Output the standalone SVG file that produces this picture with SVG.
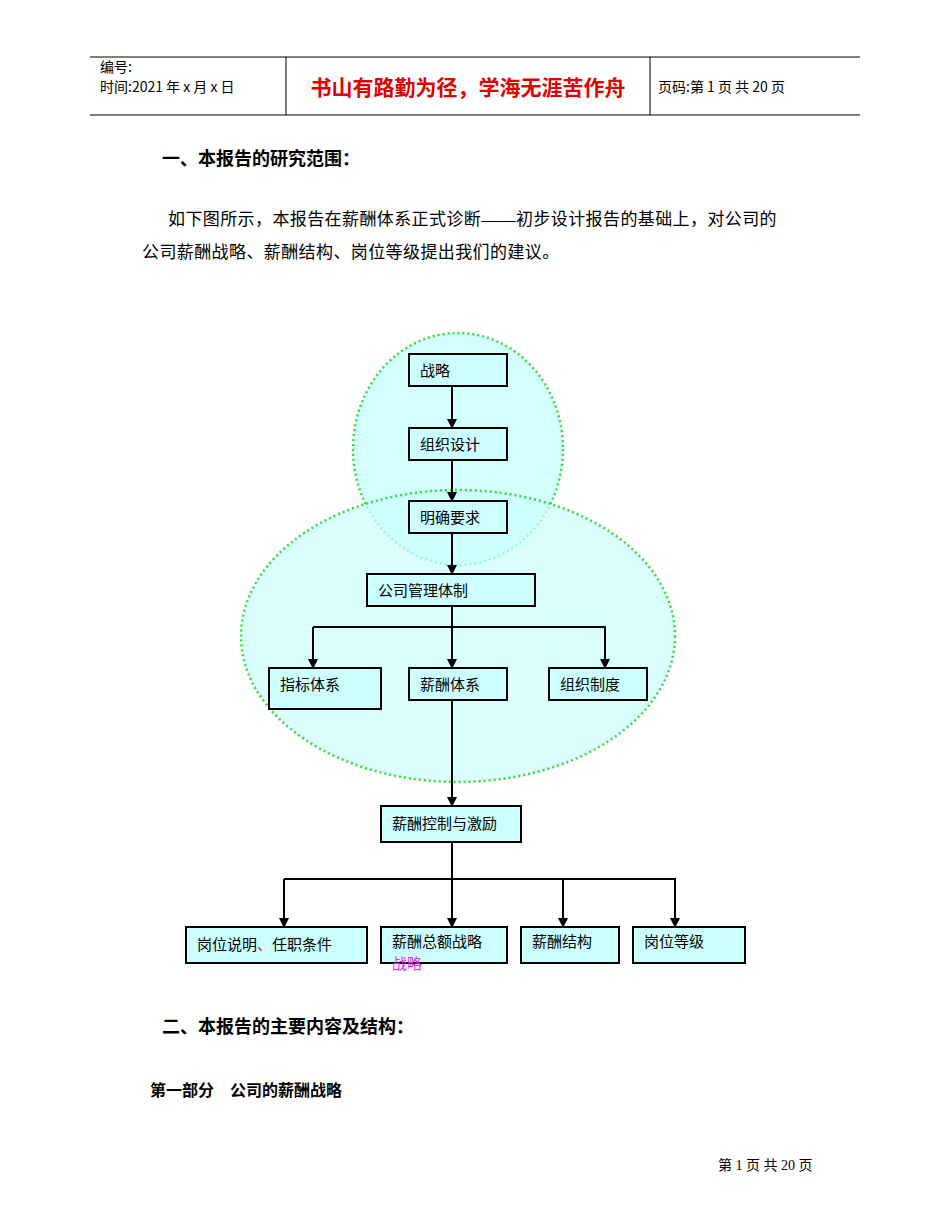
<svg xmlns="http://www.w3.org/2000/svg" width="950" height="1230" viewBox="0 0 950 1230">
<style>
text{font-family:"Liberation Serif","Noto Sans CJK SC",serif;fill:#000}
.h{font-family:"Noto Sans CJK SC",sans-serif;font-size:14px}
.b rect{fill:#ccffff;stroke:#000;stroke-width:2}
.b text{font-family:"Noto Sans CJK SC",sans-serif;font-size:15px}
.c{stroke:#000;stroke-width:2;fill:none}
.t{font-family:"Noto Sans CJK SC",sans-serif;font-weight:bold;font-size:18px}
.p{font-size:17px;letter-spacing:0.4px}
</style>
<defs><marker id="a" markerWidth="10" markerHeight="10" refX="9" refY="5" orient="auto" markerUnits="userSpaceOnUse"><path d="M0,0L10,5L0,10z" fill="#000"/></marker></defs>
<line x1="90" y1="57" x2="860" y2="57" stroke="#000"/>
<line x1="90" y1="115" x2="860" y2="115" stroke="#000"/>
<line x1="286" y1="57" x2="286" y2="115" stroke="#000"/>
<line x1="650" y1="57" x2="650" y2="115" stroke="#000"/>
<text class="h" x="100" y="72">编号:</text>
<text class="h" x="100" y="92">时间:2021 年 x 月 x 日</text>
<text x="468" y="95" text-anchor="middle" style="font-family:'Noto Sans CJK SC',sans-serif;font-size:21px;fill:#e00000;font-weight:bold">书山有路勤为径，学海无涯苦作舟</text>
<text class="h" x="658" y="92">页码:第 1 页 共 20 页</text>
<text class="t" x="162" y="165">一、本报告的研究范围：</text>
<text class="p" x="168" y="225">如下图所示，本报告在薪酬体系正式诊断——初步设计报告的基础上，对公司的</text>
<text class="p" x="142" y="258">公司薪酬战略、薪酬结构、岗位等级提出我们的建议。</text>
<g id="circle"><ellipse cx="458" cy="449" rx="105" ry="116" fill="#ccffff" fill-opacity="0.85" stroke="#33dd33" stroke-width="2.5" stroke-dasharray="2,3"/></g>
<g id="ellipse"><ellipse cx="458" cy="636" rx="217" ry="146" fill="#ccffff" fill-opacity="0.7" stroke="#33dd33" stroke-width="2.5" stroke-dasharray="2,3"/></g>
<g id="connectors" class="c">
<line x1="452" y1="386" x2="452" y2="428" marker-end="url(#a)"/>
<line x1="452" y1="460" x2="452" y2="501" marker-end="url(#a)"/>
<line x1="452" y1="533" x2="452" y2="574" marker-end="url(#a)"/>
<line x1="452" y1="606" x2="452" y2="668" marker-end="url(#a)"/>
<polyline points="313,627 605,627 605,668" marker-end="url(#a)"/>
<line x1="313" y1="627" x2="313" y2="668" marker-end="url(#a)"/>
<line x1="452" y1="700" x2="452" y2="806" marker-end="url(#a)"/>
<line x1="452" y1="842" x2="452" y2="927" marker-end="url(#a)"/>
<polyline points="284,879 675,879 675,927" marker-end="url(#a)"/>
<line x1="284" y1="879" x2="284" y2="927" marker-end="url(#a)"/>
<line x1="563" y1="879" x2="563" y2="927" marker-end="url(#a)"/>
</g>
<g id="n1" class="b"><rect x="409" y="354" width="98" height="32"/><text x="420" y="376">战略</text></g>
<g id="n2" class="b"><rect x="409" y="428" width="98" height="32"/><text x="420" y="450">组织设计</text></g>
<g id="n3" class="b"><rect x="409" y="501" width="98" height="32"/><text x="420" y="523">明确要求</text></g>
<g id="n4" class="b"><rect x="367" y="574" width="168" height="32"/><text x="378" y="596">公司管理体制</text></g>
<g id="n5" class="b"><rect x="269" y="668" width="112" height="41"/><text x="280" y="690">指标体系</text></g>
<g id="n6" class="b"><rect x="409" y="668" width="98" height="32"/><text x="420" y="690">薪酬体系</text></g>
<g id="n7" class="b"><rect x="549" y="668" width="98" height="32"/><text x="560" y="690">组织制度</text></g>
<g id="n8" class="b"><rect x="381" y="806" width="140" height="36"/><text x="392" y="829">薪酬控制与激励</text></g>
<g id="n9" class="b"><rect x="186" y="927" width="181" height="36"/><text x="197" y="950">岗位说明<tspan style="fill:#e00000">、</tspan>任职条件</text></g>
<g id="n10" class="b"><rect x="381" y="927" width="126" height="36"/><text x="392" y="947">薪酬总额战略</text><text x="392" y="969" style="fill:#dd33dd">战略</text></g>
<g id="n11" class="b"><rect x="521" y="927" width="98" height="36"/><text x="532" y="947">薪酬结构</text></g>
<g id="n12" class="b"><rect x="633" y="927" width="112" height="36"/><text x="644" y="947">岗位等级</text></g>
<text class="t" x="162" y="1033">二、本报告的主要内容及结构：</text>
<text x="150" y="1096" style="font-family:'Noto Sans CJK SC',sans-serif;font-weight:bold;font-size:16px">第一部分　公司的薪酬战略</text>
<text x="718" y="1170" style="font-size:14px">第 1 页 共 20 页</text>
</svg>
